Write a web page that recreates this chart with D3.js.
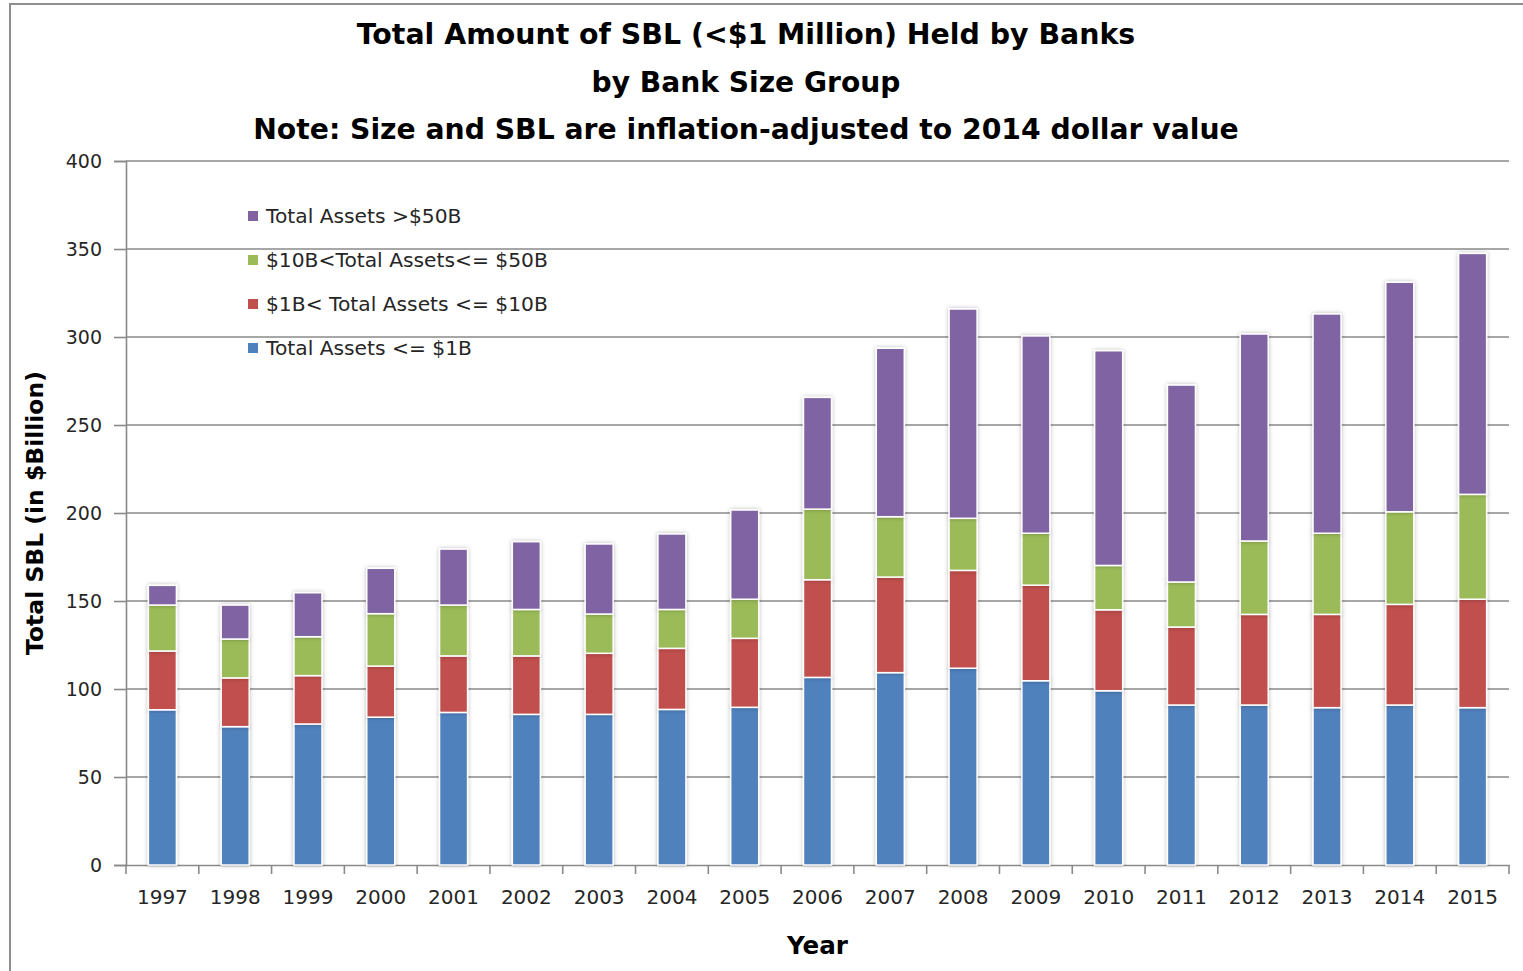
<!DOCTYPE html>
<html>
<head>
<meta charset="utf-8">
<script src="https://cdn.jsdelivr.net/npm/d3@7"></script>
<style>
  html, body { margin: 0; padding: 0; background: #fff; }
  svg { display: block; }
</style>
</head>
<body>
<svg id="chart" width="1523" height="971"></svg>
<script>
// ---- data ----
const years = ["1997","1998","1999","2000","2001","2002","2003","2004","2005","2006","2007","2008","2009","2010","2011","2012","2013","2014","2015"];
const seriesNames = ["Total Assets <= $1B", "$1B< Total Assets <= $10B", "$10B<Total Assets<= $50B", "Total Assets >$50B"];
const assetsUnder1B   = [88.2, 78.6, 80.1, 84.0, 86.7, 85.6, 85.6, 88.4, 89.6, 106.6, 109.3, 111.8, 104.7, 99.0, 90.9, 90.9, 89.4, 90.9, 89.4];
const assets1Bto10B   = [33.4, 27.7, 27.5, 29.0, 32.1, 33.2, 34.7, 34.7, 39.2, 55.5, 54.3, 55.6, 54.3, 46.0, 44.3, 51.5, 53.0, 57.2, 61.6];
const assets10Bto50B  = [26.1, 22.1, 22.1, 29.8, 28.9, 26.4, 22.3, 22.1, 22.2, 40.1, 34.3, 29.6, 29.5, 25.2, 25.6, 41.7, 46.1, 52.6, 59.6];
const assetsOver50B   = [11.2, 19.3, 25.0, 25.8, 31.8, 38.5, 39.8, 42.9, 50.7, 63.5, 95.7, 118.9, 112.1, 122.0, 111.9, 117.6, 124.6, 130.4, 136.9];
const yTicks = [0, 50, 100, 150, 200, 250, 300, 350, 400];
const titleLines = ["Total Amount of SBL (<$1 Million) Held by Banks", "by Bank Size Group", "Note: Size and SBL are inflation-adjusted to 2014 dollar value"];
const yTitle = "Total SBL (in $Billion)";
const xTitle = "Year";

// ---- layout ----
const colors = ["#4F81BD", "#C0504D", "#9BBB59", "#8064A2"];
const plot = { left: 126, right: 1509, top: 161, bottom: 865 };
const svg = d3.select("#chart");
const FONT = "'DejaVu Sans', sans-serif";

// border of chart area
svg.append("path")
  .attr("d", "M10,971 L10,4 L1523,4")
  .attr("fill", "none").attr("stroke", "#8f8f8f").attr("stroke-width", 2);

const table = years.map((y, i) => ({
  year: y,
  s0: assetsUnder1B[i], s1: assets1Bto10B[i], s2: assets10Bto50B[i], s3: assetsOver50B[i]
}));
const keys = ["s0", "s1", "s2", "s3"];
const stacked = d3.stack().keys(keys)(table);

const x = d3.scaleBand().domain(years).range([plot.left, plot.right]).paddingInner(0.615).paddingOuter(0.3075);
const y = d3.scaleLinear().domain([0, 400]).range([plot.bottom, plot.top]);

// gridlines
svg.append("g").selectAll("line").data(yTicks.filter(d => d > 0)).join("line")
  .attr("x1", plot.left).attr("x2", plot.right)
  .attr("y1", d => y(d)).attr("y2", d => y(d))
  .attr("stroke", "#8a8a8a").attr("stroke-width", 1.6);

// y axis
const yAxis = svg.append("g").attr("transform", `translate(${plot.left},0)`)
  .call(d3.axisLeft(y).tickValues(yTicks).tickSize(12).tickPadding(12));
yAxis.select(".domain").attr("stroke", "#8a8a8a").attr("stroke-width", 1.6);
yAxis.selectAll(".tick line").attr("stroke", "#8a8a8a").attr("stroke-width", 1.6);
yAxis.selectAll(".tick text").attr("font-family", FONT).attr("font-size", 19).attr("fill", "#262626");

// x axis
const xAxis = svg.append("g").attr("transform", `translate(0,${plot.bottom})`)
  .call(d3.axisBottom(x).tickSize(0).tickPadding(25));
xAxis.select(".domain").attr("stroke", "#8a8a8a").attr("stroke-width", 1.6);
xAxis.selectAll(".tick text").attr("font-family", FONT).attr("font-size", 20).attr("fill", "#262626");
// category boundary ticks
const step = x.step();
const boundaries = d3.range(years.length + 1).map(i => plot.left + i * step);
svg.append("g").selectAll("line").data(boundaries).join("line")
  .attr("x1", d => d).attr("x2", d => d)
  .attr("y1", plot.bottom).attr("y2", plot.bottom + 9)
  .attr("stroke", "#8a8a8a").attr("stroke-width", 1.6);

// shadow filter
const defs = svg.append("defs");
const f = defs.append("filter").attr("id", "shadow").attr("x", "-40%").attr("y", "-20%").attr("width", "180%").attr("height", "140%");
f.append("feDropShadow").attr("dx", 0).attr("dy", 0).attr("stdDeviation", 2.2)
  .attr("flood-color", "#000").attr("flood-opacity", 0.28);

// bars
svg.append("g").selectAll("g").data(stacked).join("g")
  .attr("fill", (d, i) => colors[i])
  .selectAll("rect").data(d => d).join("rect")
  .attr("x", d => x(d.data.year))
  .attr("width", x.bandwidth())
  .attr("y", d => y(d[1]))
  .attr("height", d => y(d[0]) - y(d[1]))
  .attr("stroke", "#ffffff").attr("stroke-width", 1.5)
  .attr("filter", "url(#shadow)");

// helper: fit text width
function fit(sel, target) {
  const w = sel.node().getComputedTextLength();
  const fs = parseFloat(sel.attr("font-size"));
  sel.attr("font-size", fs * target / w);
}

// title
const titleY = [34, 82, 129];
const titleW = [779, 309, 986];
titleLines.forEach((t, i) => {
  const tx = svg.append("text").attr("x", 746).attr("y", titleY[i])
    .attr("text-anchor", "middle").attr("dominant-baseline", "central")
    .attr("font-family", FONT).attr("font-weight", "bold").attr("font-size", 26)
    .attr("fill", "#000").text(t);
  fit(tx, titleW[i]);
});

// axis titles
const yt = svg.append("text")
  .attr("transform", `translate(35,${(plot.top + plot.bottom) / 2}) rotate(-90)`)
  .attr("text-anchor", "middle").attr("dominant-baseline", "central")
  .attr("font-family", FONT).attr("font-weight", "bold").attr("font-size", 20)
  .attr("fill", "#000").text(yTitle);
fit(yt, 284);
const xt = svg.append("text")
  .attr("x", (plot.left + plot.right) / 2).attr("y", 945)
  .attr("text-anchor", "middle").attr("dominant-baseline", "central")
  .attr("font-family", FONT).attr("font-weight", "bold").attr("font-size", 20)
  .attr("fill", "#000").text(xTitle);
fit(xt, 61);

// legend (top to bottom: reverse series order)
const legendOrder = [3, 2, 1, 0];
const legendY = [216, 260, 304, 348];
const lg = svg.append("g");
let legendFont = 17;
legendOrder.forEach((si, r) => {
  lg.append("rect").attr("x", 248).attr("y", legendY[r] - 5).attr("width", 10).attr("height", 10)
    .attr("fill", colors[si]);
  const t = lg.append("text").attr("x", 266).attr("y", legendY[r])
    .attr("dominant-baseline", "central")
    .attr("font-family", FONT).attr("font-size", legendFont).attr("fill", "#262626")
    .text(seriesNames[si]);
  if (r === 1) {
    const w = t.node().getComputedTextLength();
    legendFont = legendFont * 282 / w;
  }
});
lg.selectAll("text").attr("font-size", legendFont);
</script>
</body>
</html>
